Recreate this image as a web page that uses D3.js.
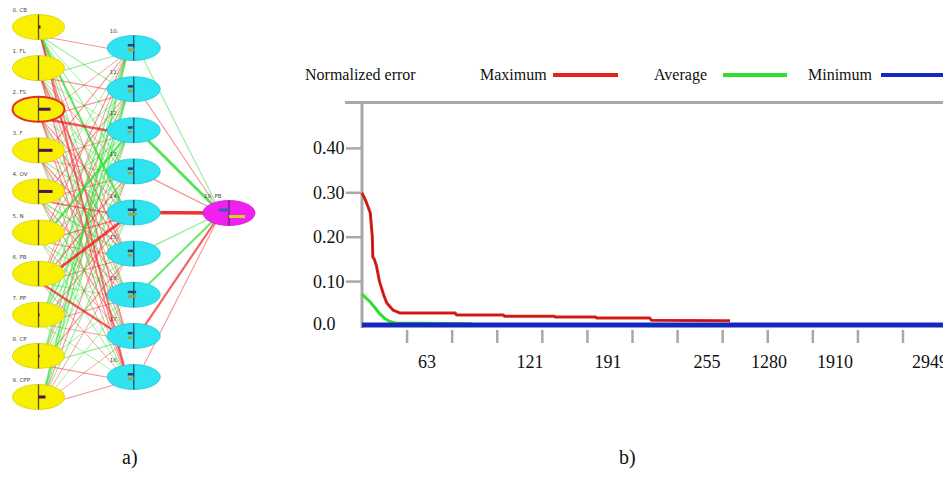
<!DOCTYPE html>
<html>
<head>
<meta charset="utf-8">
<script src="https://cdn.jsdelivr.net/npm/d3@7"></script>
<style>
  body { margin: 0; background: #fff; }
  svg { display: block; }
</style>
</head>
<body>
<div id="fig"></div>
<script>
// ---- network (panel a) ----
var inputNames = ["0. CB", "1. FL", "2. FS", "3. F", "4. OV", "5. N", "6. PB", "7. PP", "8. CP", "9. CPP"];
var hiddenNames = ["10.", "11.", "12.", "13.", "14.", "15.", "16.", "17.", "18."];
var outputName = "19. PB";
var selectedInput = "2. FS";

// connection weights input -> hidden (rows = inputs), sign gives colour, size gives width
var weightsIH = [
  [-0.2, 0.2, 0.15, 0.2, 0.55, -0.15, 0.2, -0.3, -0.45],
  [0.2, -0.2, 0.15, -0.15, 0.2, -0.3, -0.2, 0.15, -0.3],
  [-0.15, -0.2, -0.6, 0.15, -0.2, -0.25, 0.2, -0.2, -0.2],
  [-0.2, 0.15, -0.2, -0.15, 0.2, -0.25, -0.2, 0.2, -0.15],
  [0.15, -0.2, 0.2, -0.2, -0.4, 0.3, -0.2, -0.2, 0.2],
  [-0.2, 0.2, 0.6, 0.2, -0.3, -0.2, 0.2, -0.15, 0.15],
  [-0.15, -0.2, 0.2, -0.3, -0.75, -0.2, 0.2, -0.6, -0.15],
  [0.3, 0.2, 0.35, 0.2, -0.2, 0.15, -0.2, -0.15, 0.15],
  [0.15, 0.35, -0.15, 0.2, 0.15, -0.2, 0.15, 0.2, -0.2],
  [0.4, 0.3, 0.2, -0.2, 0.2, -0.15, 0.15, -0.15, -0.2]
];
// hidden -> output
var weightsHO = [0.2, -0.2, 0.7, -0.25, -0.9, 0.25, 0.5, -0.55, -0.2];

// small activation bars inside the nodes
var inputActivation = [0.1, 0, 0.6, 0.7, 0.7, 0, 0, 0.05, 0.05, 0.35];
var hiddenActivation = [0.35, 0.2, 0.1, 0.15, 0.6, 0.15, 0.55, 0.1, 0.3];
var outputActivation = [0.5, 0.8];

// ---- training error (panel b) ----
var xTickLabels = [63, 121, 191, 255, 1280, 1910, 2949];
var yTickValues = [0.1, 0.2, 0.3, 0.4];
var yTickLabels = ["0.10", "0.20", "0.30", "0.40"];
var seriesNames = ["Maximum", "Average", "Minimum"];

var maxIter = [0, 4, 8, 10, 10.5, 12, 14, 17, 21, 24, 30, 37, 79, 79.5, 106, 106.5, 143, 143.5, 180, 181, 218, 219, 635];
var maxError = [0.30, 0.28, 0.255, 0.20, 0.155, 0.15, 0.135, 0.10, 0.07, 0.052, 0.036, 0.029, 0.029, 0.025, 0.025, 0.022, 0.022, 0.02, 0.02, 0.018, 0.018, 0.013, 0.012];

var avgIter = [0, 3, 8, 13, 17, 22, 27, 32, 88];
var avgError = [0.072, 0.065, 0.054, 0.04, 0.028, 0.017, 0.01, 0.007, 0.005];

var minIter = [0, 3300];
var minError = [0.002, 0.002];

// ---- drawing ----
var width = 943;
var height = 480;
var serif = "'Liberation Serif'";
var sans = "'DejaVu Sans'";

var svg = d3.select("#fig")
  .append("svg")
  .attr("width", width)
  .attr("height", height);

svg.append("rect").attr("width", width).attr("height", height).attr("fill", "#fff");

// ===== panel a: network =====
var colX = d3.scalePoint().domain(["input", "hidden", "output"]).range([38.5, 229]);
var inY = d3.scalePoint().domain(inputNames).range([27, 397]);
var hidY = d3.scalePoint().domain(hiddenNames).range([48, 377]);
var outY = 213;
var rx = 26, ry = 12.5;

var wWidth = d3.scaleLinear().domain([0, 1]).range([0.5, 3.6]);
var wOpacity = d3.scaleLinear().domain([0, 1]).range([0.35, 1]).clamp(true);
var wColor = w => w < 0 ? "#ee2222" : "#22dd22";

var net = svg.append("g");

// edges input -> hidden
var ihEdges = [];
inputNames.forEach((a, i) => hiddenNames.forEach((b, j) => ihEdges.push({ a: a, b: b, w: weightsIH[i][j] })));
ihEdges.sort((p, q) => Math.abs(p.w) - Math.abs(q.w));

net.selectAll("line.ih")
  .data(ihEdges)
  .enter()
  .append("line")
  .attr("class", "ih")
  .attr("x1", colX("input") + 2)
  .attr("y1", d => inY(d.a) + 9)
  .attr("x2", colX("hidden") - 6)
  .attr("y2", d => hidY(d.b) + 4)
  .attr("stroke", d => wColor(d.w))
  .attr("stroke-width", d => wWidth(Math.abs(d.w)))
  .attr("stroke-opacity", d => wOpacity(Math.abs(d.w)));

// edges hidden -> output
net.selectAll("line.ho")
  .data(hiddenNames)
  .enter()
  .append("line")
  .attr("class", "ho")
  .attr("x1", colX("hidden") + 4)
  .attr("y1", d => hidY(d))
  .attr("x2", colX("output") - 8)
  .attr("y2", outY)
  .attr("stroke", (d, j) => wColor(weightsHO[j]))
  .attr("stroke-width", (d, j) => wWidth(Math.abs(weightsHO[j])))
  .attr("stroke-opacity", (d, j) => wOpacity(Math.abs(weightsHO[j])));

var barLen = d3.scaleLinear().domain([0, 1]).range([0, 20]);

// input nodes
var inNode = net.selectAll("g.in")
  .data(inputNames)
  .enter()
  .append("g")
  .attr("transform", d => "translate(" + colX("input") + "," + inY(d) + ")");

inNode.append("ellipse")
  .attr("rx", rx).attr("ry", ry)
  .attr("fill", "#f8f000")
  .attr("stroke", d => d === selectedInput ? "#e83020" : "#d8d000")
  .attr("stroke-width", d => d === selectedInput ? 2 : 0.8);
inNode.append("line")
  .attr("y1", -ry).attr("y2", ry)
  .attr("stroke", "#5a5020").attr("stroke-width", 1.3);
inNode.append("rect")
  .attr("x", 0).attr("y", -1.5)
  .attr("width", (d, i) => barLen(inputActivation[i]))
  .attr("height", 3)
  .attr("fill", "#50105a");
inNode.append("text")
  .attr("x", -rx).attr("y", -15)
  .style("font-family", sans)
  .attr("font-size", 5.5)
  .attr("fill", "#444")
  .text(d => d);

// hidden nodes
var hidNode = net.selectAll("g.hid")
  .data(hiddenNames)
  .enter()
  .append("g")
  .attr("transform", d => "translate(" + colX("hidden") + "," + hidY(d) + ")");

hidNode.append("ellipse")
  .attr("rx", rx + 0.5).attr("ry", ry)
  .attr("fill", "#2fe3f0")
  .attr("stroke", "#20c8d8").attr("stroke-width", 0.8);
hidNode.append("line")
  .attr("y1", -ry).attr("y2", ry)
  .attr("stroke", "#205060").attr("stroke-width", 1.3);
hidNode.append("rect")
  .attr("x", -6).attr("y", -4)
  .attr("width", (d, i) => 4 + barLen(hiddenActivation[i]) * 0.4)
  .attr("height", 2.5)
  .attr("fill", "#304070");
hidNode.append("rect")
  .attr("x", -6).attr("y", 0.5)
  .attr("width", (d, i) => 3 + barLen(hiddenActivation[i]) * 0.5)
  .attr("height", 2.5)
  .attr("fill", "#a8a030");
hidNode.append("text")
  .attr("x", -rx + 2).attr("y", -15)
  .style("font-family", sans)
  .attr("font-size", 5.5)
  .attr("fill", "#444")
  .text(d => d);

// output node
var outNode = net.append("g")
  .attr("transform", "translate(" + colX("output") + "," + outY + ")");
outNode.append("ellipse")
  .attr("rx", rx).attr("ry", ry)
  .attr("fill", "#f020f0")
  .attr("stroke", "#d010d0").attr("stroke-width", 0.8);
outNode.append("line")
  .attr("y1", -ry).attr("y2", ry)
  .attr("stroke", "#503060").attr("stroke-width", 1.3);
outNode.append("rect")
  .attr("x", -barLen(outputActivation[0])).attr("y", -4.5)
  .attr("width", barLen(outputActivation[0])).attr("height", 3)
  .attr("fill", "#3060c0");
outNode.append("rect")
  .attr("x", 0).attr("y", 2)
  .attr("width", barLen(outputActivation[1])).attr("height", 3)
  .attr("fill", "#d8d020");
outNode.append("text")
  .attr("x", -rx + 1).attr("y", -15)
  .style("font-family", sans)
  .attr("font-size", 5.5)
  .attr("fill", "#444")
  .text(outputName);

// ===== panel b: error chart =====
// the iteration axis is not linear: piecewise scale through the labelled iterations
var xScale = d3.scaleLinear()
  .domain([0].concat(xTickLabels))
  .range([362, 427, 530, 608, 707, 769, 835, 930]);

var yScale = d3.scaleLinear()
  .domain([0, 0.5])
  .range([326, 104]);

var axisGray = "#a8a8a8";

// frame: top border and y axis
svg.append("line")
  .attr("x1", 345).attr("x2", width)
  .attr("y1", yScale(0.5) - 1.5).attr("y2", yScale(0.5) - 1.5)
  .attr("stroke", axisGray).attr("stroke-width", 3);
svg.append("line")
  .attr("x1", xScale(0)).attr("x2", xScale(0))
  .attr("y1", yScale(0.5) - 1.5).attr("y2", yScale(0) + 2)
  .attr("stroke", axisGray).attr("stroke-width", 3);

// y ticks and labels
svg.selectAll("line.ytick")
  .data(yTickValues)
  .enter()
  .append("line")
  .attr("class", "ytick")
  .attr("x1", 346).attr("x2", xScale(0))
  .attr("y1", d => yScale(d)).attr("y2", d => yScale(d))
  .attr("stroke", axisGray).attr("stroke-width", 2.5);

svg.selectAll("text.ylab")
  .data(yTickValues)
  .enter()
  .append("text")
  .attr("class", "ylab")
  .attr("x", 313)
  .attr("y", d => yScale(d) + 6)
  .style("font-family", serif)
  .attr("font-size", 18)
  .attr("fill", "#111")
  .text((d, i) => yTickLabels[i]);

svg.append("text")
  .attr("x", 313)
  .attr("y", yScale(0) + 4)
  .style("font-family", serif)
  .attr("font-size", 18)
  .attr("fill", "#111")
  .text("0.0");

// x tick marks (evenly spaced, independent of the labels)
var markScale = d3.scaleLinear().domain([0, 12]).range([362, 903]);
svg.selectAll("line.xmark")
  .data(d3.range(1, 13))
  .enter()
  .append("line")
  .attr("class", "xmark")
  .attr("x1", d => markScale(d)).attr("x2", d => markScale(d))
  .attr("y1", 330).attr("y2", 343)
  .attr("stroke", axisGray).attr("stroke-width", 2.5);

svg.selectAll("text.xlab")
  .data(xTickLabels)
  .enter()
  .append("text")
  .attr("class", "xlab")
  .attr("x", d => xScale(d))
  .attr("y", 368)
  .attr("text-anchor", "middle")
  .style("font-family", serif)
  .attr("font-size", 18)
  .attr("fill", "#111")
  .text(d => d);

// series
var line = d3.line()
  .x(d => xScale(d[0]))
  .y(d => yScale(d[1]));

var series = [
  { name: "Maximum", pts: d3.zip(maxIter, maxError), color: "#e5231b", w: 3 },
  { name: "Average", pts: d3.zip(avgIter, avgError), color: "#2ee02e", w: 3 },
  { name: "Minimum", pts: d3.zip(minIter, minError), color: "#1428c0", w: 5 }
];

svg.selectAll("path.series")
  .data(series)
  .enter()
  .append("path")
  .attr("class", "series")
  .attr("d", d => line(d.pts))
  .attr("fill", "none")
  .attr("stroke", d => d.color)
  .attr("stroke-width", d => d.w)
  .attr("stroke-linejoin", "round");

// dark core on the maximum curve
svg.append("path")
  .attr("d", line(series[0].pts))
  .attr("fill", "none")
  .attr("stroke", "#7a1010")
  .attr("stroke-width", 0.8)
  .attr("stroke-opacity", 0.7);

// legend
svg.append("text")
  .attr("x", 305).attr("y", 80)
  .style("font-family", serif)
  .attr("font-size", 16)
  .attr("fill", "#111")
  .text("Normalized error");

var legendX = [480, 654, 808];
var legend = svg.selectAll("g.legend")
  .data(series)
  .enter()
  .append("g")
  .attr("transform", (d, i) => "translate(" + legendX[i] + ",0)");

legend.append("text")
  .attr("x", 0).attr("y", 80)
  .style("font-family", serif)
  .attr("font-size", 16)
  .attr("fill", "#111")
  .text(d => d.name);
legend.append("line")
  .attr("x1", d => d.name === "Average" ? 69 : 73)
  .attr("x2", d => d.name === "Average" ? 133 : 138)
  .attr("y1", 75).attr("y2", 75)
  .attr("stroke", d => d.color)
  .attr("stroke-width", 4);

// captions
svg.append("text")
  .attr("x", 122).attr("y", 464)
  .style("font-family", serif)
  .attr("font-size", 20)
  .attr("fill", "#111")
  .text("a)");
svg.append("text")
  .attr("x", 619).attr("y", 464)
  .style("font-family", serif)
  .attr("font-size", 20)
  .attr("fill", "#111")
  .text("b)");
</script>
</body>
</html>
